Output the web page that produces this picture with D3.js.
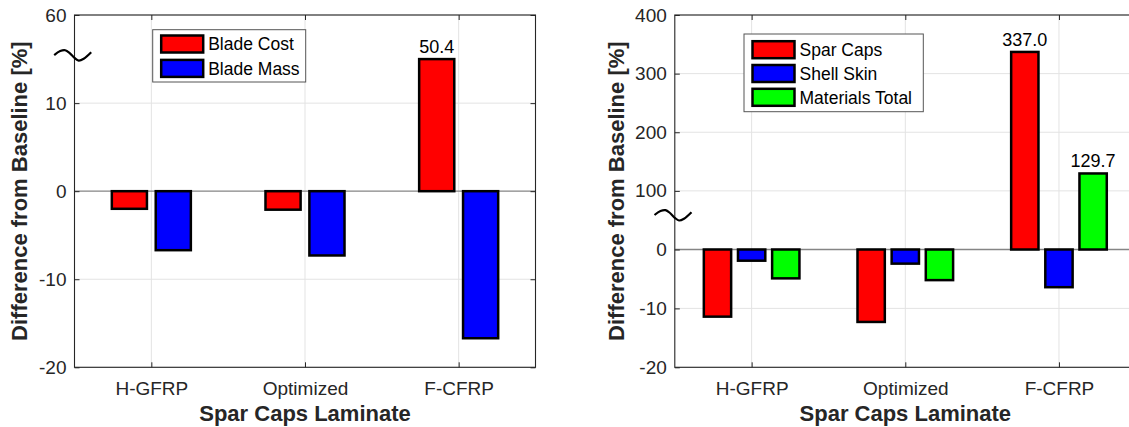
<!DOCTYPE html>
<html>
<head>
<meta charset="utf-8">
<script src="https://cdn.jsdelivr.net/npm/d3@7"></script>
<style>
  html, body { margin: 0; padding: 0; background: #fff; }
  svg { display: block; }
  text { font-family: "Liberation Sans", Arial, Helvetica, sans-serif; }
</style>
</head>
<body>
<svg id="chart" width="1129" height="427"></svg>
<script>
// ---------- data ----------
const categories = ["H-GFRP", "Optimized", "F-CFRP"];

const bladeCost = [-2.0, -2.1, 50.4];
const bladeMass = [-6.7, -7.3, -16.7];

const sparCaps = [-11.4, -12.3, 337.0];
const shellSkin = [-1.9, -2.4, -6.4];
const materialsTotal = [-4.9, -5.2, 129.7];

const leftSeriesNames = ["Blade Cost", "Blade Mass"];
const rightSeriesNames = ["Spar Caps", "Shell Skin", "Materials Total"];

const leftTicks = [-20, -10, 0, 10, 60];
const rightTicks = [-20, -10, 0, 100, 200, 300, 400];

const xTitle = "Spar Caps Laminate";
const yTitle = "Difference from Baseline [%]";

// ---------- styles ----------
const seriesColors = ["#ff0000", "#0000ff", "#00ff00"];
const axisColor = "#262626";
const gridColor = "#e3e3e3";
const FONT = '"Liberation Sans", Arial, Helvetica, sans-serif';

const svg = d3.select("#chart");
const TOP = 15, BOTTOM = 367.3;

// left: broken axis, values between 15 and 55 are cut out
const yLeft = d3.scaleLinear()
  .domain([-20, 15, 55, 60])
  .range([BOTTOM, 59.1, 59.1, TOP]);
// right: two linear segments (10 per tick below 0, 100 per tick above)
const yRight = d3.scaleLinear()
  .domain([-20, 0, 400])
  .range([BOTTOM, 249.5, TOP]);

function drawPanel(cfg) {
  const g = svg.append("g");
  const x = d3.scaleLinear().domain([0.5, 3.5]).range(cfg.xRange);
  const y = cfg.y;
  const [x0, x1] = cfg.xRange;
  const n = cfg.series.length;

  const clipId = "clip" + cfg.id;
  svg.append("clipPath").attr("id", clipId)
    .append("rect").attr("x", x0).attr("y", TOP).attr("width", x1 - x0).attr("height", BOTTOM - TOP);

  // grid
  const grid = g.append("g");
  grid.selectAll("line.gy").data(cfg.ticks.filter(t => t !== 0)).enter().append("line")
    .attr("x1", x0).attr("x2", x1).attr("y1", d => y(d)).attr("y2", d => y(d))
    .attr("stroke", gridColor).attr("stroke-width", 1);
  grid.selectAll("line.gx").data(categories).enter().append("line")
    .attr("x1", (d, i) => x(i + 1)).attr("x2", (d, i) => x(i + 1))
    .attr("y1", TOP).attr("y2", BOTTOM)
    .attr("stroke", gridColor).attr("stroke-width", 1);

  // baseline
  g.append("line").attr("x1", x0).attr("x2", x1)
    .attr("y1", y(0)).attr("y2", y(0))
    .attr("stroke", "#858585").attr("stroke-width", 1.3);

  // bars (MATLAB grouped bar geometry)
  const gw = Math.min(0.8, n / (n + 1.5));
  const bw = gw / n * 0.8;
  const bars = g.append("g").attr("clip-path", `url(#${clipId})`);
  cfg.series.forEach((vals, j) => {
    const off = -gw / 2 + (2 * j + 1) * gw / (2 * n);
    bars.selectAll(null).data(vals).enter().append("rect")
      .attr("x", (d, i) => x(i + 1 + off - bw / 2))
      .attr("width", (d, i) => x(i + 1 + off + bw / 2) - x(i + 1 + off - bw / 2))
      .attr("y", d => Math.min(y(d), y(0)))
      .attr("height", d => Math.abs(y(d) - y(0)))
      .attr("fill", seriesColors[j])
      .attr("stroke", "#000").attr("stroke-width", 2.5);
    g.selectAll(null).data(vals.map((v, i) => ({ v, i })).filter(o => o.v > 0)).enter()
      .append("text")
      .attr("x", o => x(o.i + 1 + off))
      .attr("y", o => y(o.v) - 6.3)
      .attr("text-anchor", "middle")
      .attr("font-size", "18px")
      .attr("fill", "#000")
      .text(o => d3.format(".1f")(o.v));
  });

  // axes (ticks inward)
  const axL = g.append("g").attr("transform", `translate(${x0},0)`)
    .call(d3.axisLeft(y).tickValues(cfg.ticks).tickSize(-5).tickPadding(8).tickFormat(d => String(d)));
  const axR = g.append("g").attr("transform", `translate(${x1},0)`)
    .call(d3.axisRight(y).tickValues(cfg.ticks).tickSize(-5).tickFormat(""));
  const axB = g.append("g").attr("transform", `translate(0,${BOTTOM})`)
    .call(d3.axisBottom(x).tickValues([1, 2, 3]).tickSize(-5).tickPadding(14.2)
      .tickFormat(d => categories[d - 1]));
  const axT = g.append("g").attr("transform", `translate(0,${TOP})`)
    .call(d3.axisTop(x).tickValues([1, 2, 3]).tickSize(-5).tickFormat(""));
  [axL, axR, axB, axT].forEach(a => {
    a.select(".domain").remove();
    a.selectAll(".tick line").attr("stroke", axisColor).attr("stroke-width", 1);
    a.selectAll("text").attr("font-size", "19px").attr("fill", axisColor)
      .attr("font-family", FONT);
  });

  // box
  g.append("rect").attr("x", x0).attr("y", TOP)
    .attr("width", x1 - x0).attr("height", BOTTOM - TOP)
    .attr("fill", "none").attr("stroke", axisColor).attr("stroke-width", 1.1);

  // break mark
  const by = y(cfg.breakAt);
  const wave = [[-18.5, -0.5], [-12.5, -4.5], [-7.5, -5.3], [-3, -2.5], [1.8, 2.3], [6, 5], [11, 3.2], [18.5, -3.3]];
  g.append("path")
    .attr("d", d3.line().curve(d3.curveCatmullRom)(wave.map(p => [x0 - 1.8 + p[0], by + p[1]])))
    .attr("fill", "none").attr("stroke", "#000").attr("stroke-width", 2.2);

  // titles
  g.append("text")
    .attr("x", (x0 + x1) / 2).attr("y", 421)
    .attr("text-anchor", "middle").attr("font-size", "22px").attr("font-weight", "bold")
    .attr("fill", axisColor).text(xTitle);
  g.append("text")
    .attr("transform", `translate(${cfg.yTitleX},${(TOP + BOTTOM) / 2}) rotate(-90)`)
    .attr("text-anchor", "middle").attr("font-size", "22px").attr("font-weight", "bold")
    .attr("fill", axisColor).text(yTitle);

  // legend
  const L = cfg.legend;
  const lg = g.append("g");
  lg.append("rect").attr("x", L.x).attr("y", L.y).attr("width", L.w).attr("height", L.h)
    .attr("fill", "#fff").attr("stroke", "#555").attr("stroke-width", 1);
  cfg.names.forEach((name, j) => {
    const cy = L.y + L.first + j * L.pitch;
    lg.append("rect").attr("x", L.x + 8.5).attr("y", cy - 8.5)
      .attr("width", 42).attr("height", 17)
      .attr("fill", seriesColors[j]).attr("stroke", "#000").attr("stroke-width", 2.5);
    lg.append("text").attr("x", L.x + 55.5).attr("y", cy + 6.3)
      .attr("font-size", "17.5px").attr("fill", "#000").text(name);
  });
}

drawPanel({
  id: "L", xRange: [74.5, 535.5], y: yLeft, ticks: leftTicks,
  series: [bladeCost, bladeMass], names: leftSeriesNames,
  breakAt: 55.4, yTitleX: 26.5,
  legend: { x: 152.7, y: 29.7, w: 153, h: 52.3, first: 14.3, pitch: 24.4 }
});

drawPanel({
  id: "R", xRange: [674.8, 1135.8], y: yRight, ticks: rightTicks,
  series: [sparCaps, shellSkin, materialsTotal], names: rightSeriesNames,
  breakAt: 58, yTitleX: 623.5,
  legend: { x: 744, y: 34, w: 179.3, h: 77.7, first: 15.7, pitch: 23.8 }
});
</script>
</body>
</html>
